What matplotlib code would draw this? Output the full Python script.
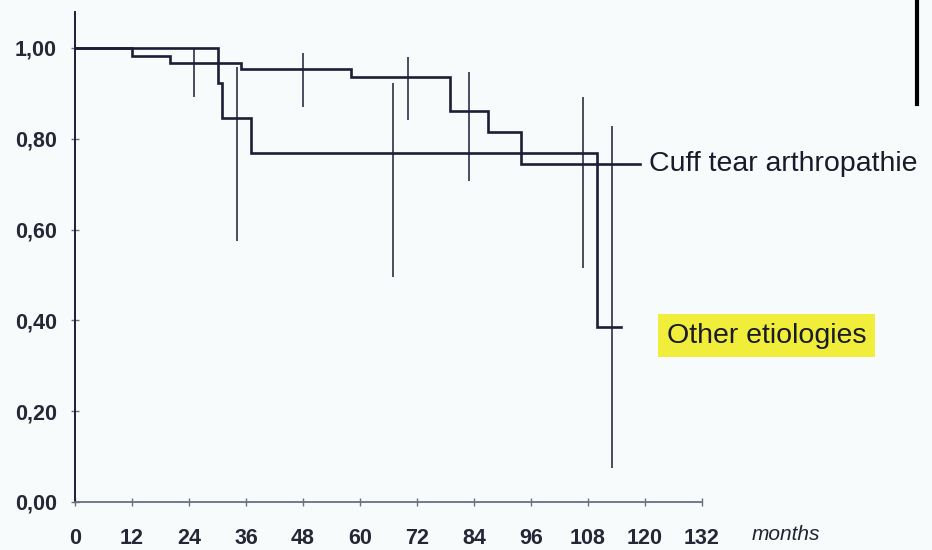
import matplotlib.pyplot as plt
from matplotlib import font_manager

# Data: Kaplan-Meier survival
months_other = [0, 30, 31, 37, 110, 115]
surv_other = [1.00, 0.923, 0.846, 0.769, 0.385, 0.385]

months_cuff = [0, 12, 20, 35, 58, 79, 87, 94, 119]
surv_cuff = [1.00, 0.982, 0.966, 0.954, 0.937, 0.862, 0.815, 0.745, 0.745]

# confidence interval bars
ci_months = [25, 34, 48, 67, 70, 83, 107, 113]
ci_low = [0.892, 0.575, 0.870, 0.496, 0.841, 0.707, 0.515, 0.075]
ci_high = [0.998, 0.958, 0.989, 0.923, 0.980, 0.947, 0.892, 0.828]

x_ticks = list(range(0, 133, 12))
y_ticks = [0.0, 0.2, 0.4, 0.6, 0.8, 1.0]
y_labels = ['0,00', '0,20', '0,40', '0,60', '0,80', '1,00']

names = {f.name for f in font_manager.fontManager.ttflist}
narrow = 'Liberation Sans Narrow' if 'Liberation Sans Narrow' in names else 'Liberation Sans'

ink = '#1d1d35'

fig = plt.figure(figsize=(9.32, 5.5), dpi=100, facecolor='#f7fbfc')
ax = fig.add_axes([0.0805, 0.0873, 0.6727, 0.8907])
ax.set_facecolor('none')

ax.step(months_other, surv_other, where='post', color=ink, lw=1.9, solid_joinstyle='miter')
ax.step(months_cuff, surv_cuff, where='post', color=ink, lw=1.9, solid_joinstyle='miter')
ax.vlines(ci_months, ci_low, ci_high, color=ink, lw=1.1)

ax.set_xlim(0, 132)
ax.set_ylim(0, 1.079)
for s in ['top', 'right']:
    ax.spines[s].set_visible(False)
ax.spines['left'].set_color(ink)
ax.spines['left'].set_linewidth(1.4)
ax.spines['bottom'].set_color('#6a6f80')
ax.spines['bottom'].set_linewidth(1.3)

ax.set_xticks(x_ticks)
ax.set_xticklabels([str(t) for t in x_ticks], fontfamily=narrow, fontsize=15.5,
                   fontweight='bold', color='#262636')
ax.set_yticks(y_ticks)
ax.set_yticklabels(y_labels, fontfamily=narrow, fontsize=15.5,
                   fontweight='bold', color='#262636')
ax.tick_params(axis='both', direction='inout', length=6, width=1, color='#6a6f80')
ax.tick_params(axis='x', pad=16)
ax.tick_params(axis='y', pad=10)

ax.text(142.5, -0.072, 'months', fontfamily=narrow, fontsize=15, style='italic',
        color='#222233', ha='left', va='center', clip_on=False)

ax.text(120.8, 0.745, 'Cuff tear arthropathie', fontfamily='Liberation Sans',
        fontsize=20.5, color='#1a1a2a', ha='left', va='center', clip_on=False)
ax.text(124.6, 0.366, 'Other etiologies', fontfamily='Liberation Sans',
        fontsize=20.5, color='#1a1a2a', ha='left', va='center', clip_on=False,
        bbox=dict(facecolor='#f0ee3a', edgecolor='none', boxstyle='square,pad=0.3'))

# black edge from the photographed page
fig.add_artist(plt.Line2D([0.984, 0.984], [0.81, 1.0], color='black', lw=3,
                          transform=fig.transFigure))

fig.savefig('out.png', dpi=100, facecolor=fig.get_facecolor())
